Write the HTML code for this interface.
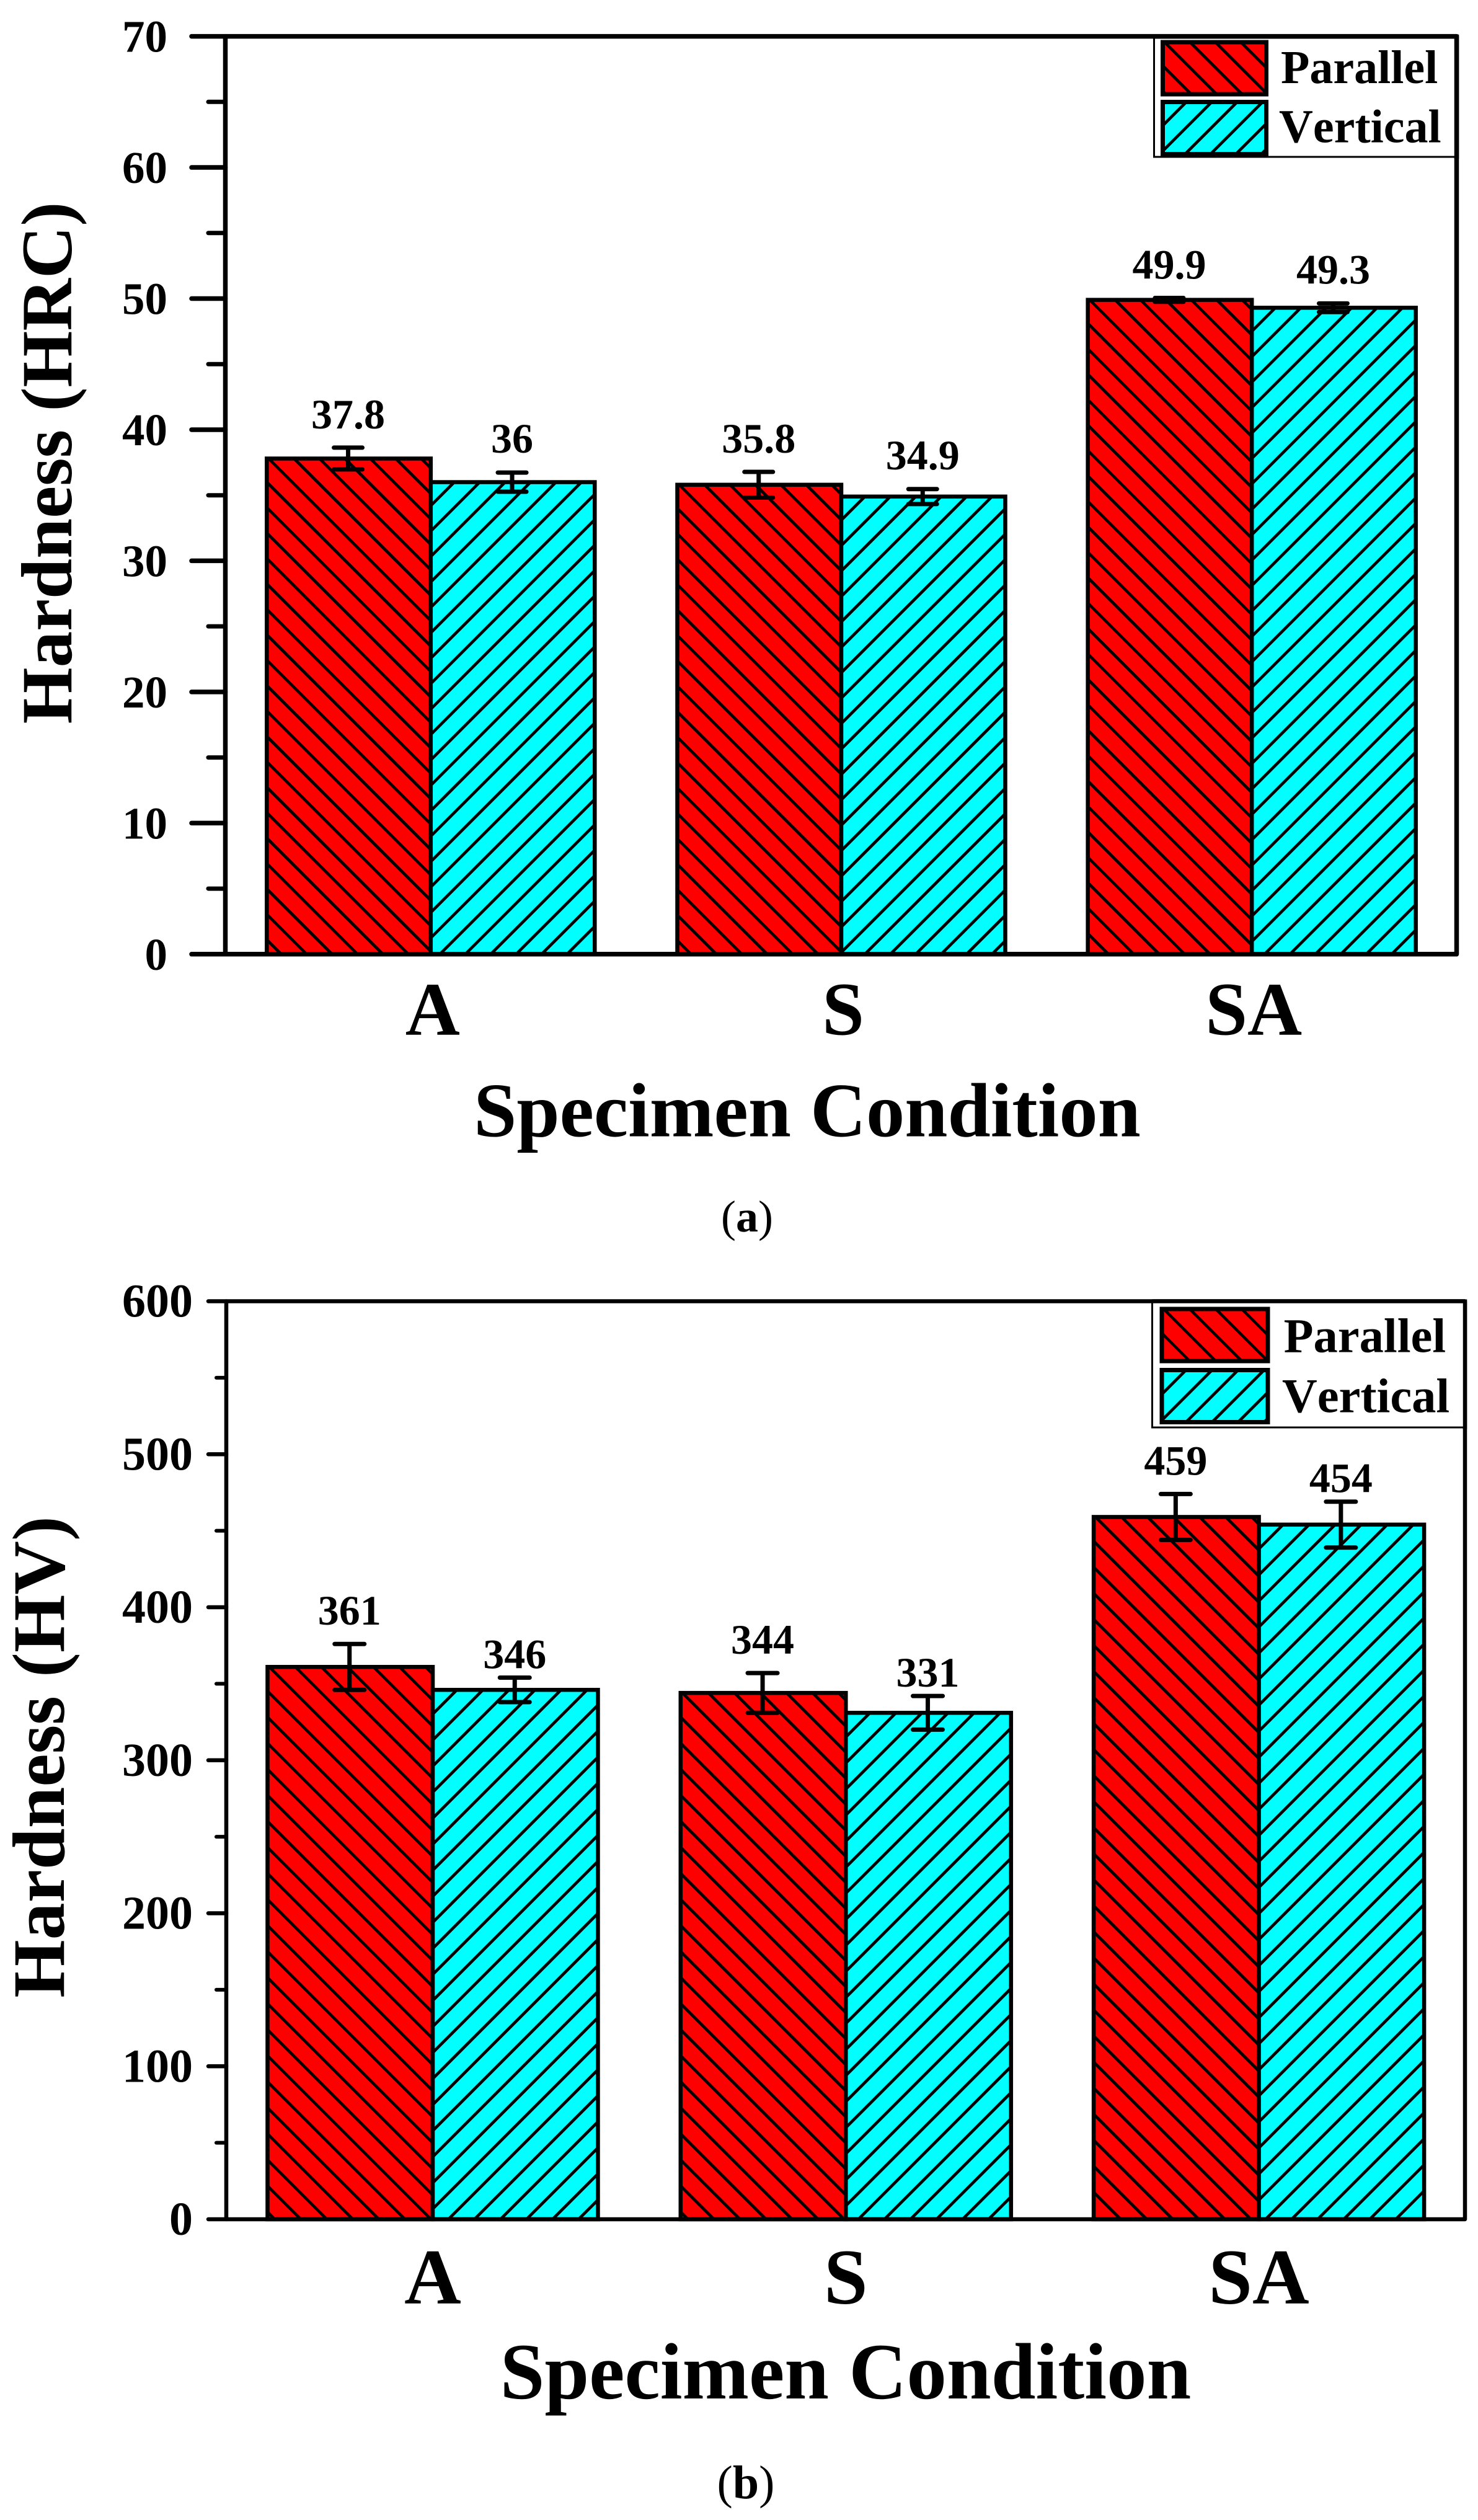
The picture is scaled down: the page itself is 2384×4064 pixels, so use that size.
<!DOCTYPE html>
<html lang="en">
<head>
<meta charset="utf-8">
<title>Hardness by specimen condition</title>
<style>
html,body{margin:0;padding:0;background:#fff;}
svg{display:block;}
text{font-family:"Liberation Serif","Times New Roman",serif;font-weight:bold;fill:#000;}
.legend-text{font-kerning:none;}
</style>
</head>
<body>
<svg id="figure" xmlns="http://www.w3.org/2000/svg" width="2384" height="4064" viewBox="0 0 2384 4064">
  <rect x="0" y="0" width="2384" height="4064" fill="#ffffff"/>
  <g id="chart-a"></g>
  <g id="chart-b"></g>
  <text transform="translate(115,746.5) rotate(-90)" text-anchor="middle" font-size="117">Hardness (HRC)</text>
  <text x="1302" y="1832.5" text-anchor="middle" font-size="124.5">Specimen Condition</text>
  <text x="1205" y="1986" text-anchor="middle" font-size="72" style="font-weight:normal">(<tspan style="font-weight:bold">a</tspan>)</text>
  <text transform="translate(103,2833.4) rotate(-90)" text-anchor="middle" font-size="120">Hardness (HV)</text>
  <text x="1364" y="3868" text-anchor="middle" font-size="129">Specimen Condition</text>
  <text x="1203" y="4029" text-anchor="middle" font-size="76" style="font-weight:normal">(<tspan style="font-weight:bold">b</tspan>)</text>
</svg>
<script>
// Chart data
const categories = ['A', 'S', 'SA'];
const seriesNames = ['Parallel', 'Vertical'];

const hrcParallel = [37.8, 35.8, 49.9];
const hrcVertical = [36, 34.9, 49.3];
const hrcParallelErr = [0.83, 0.98, 0.15];
const hrcVerticalErr = [0.73, 0.57, 0.33];
const hrcMajorTicks = [0, 10, 20, 30, 40, 50, 60, 70];
const hrcMinorTicks = [5, 15, 25, 35, 45, 55, 65];

const hvParallel = [361, 344, 459];
const hvVertical = [346, 331, 454];
const hvParallelErr = [15, 13, 15];
const hvVerticalErr = [8, 11, 15];
const hvMajorTicks = [0, 100, 200, 300, 400, 500, 600];
const hvMinorTicks = [50, 150, 250, 350, 450, 550];

const SVG_NS = 'http://www.w3.org/2000/svg';
const clipRegistry = { n: 0 };

function make(parent, tag, attrs) {
  const node = document.createElementNS(SVG_NS, tag);
  for (const key in attrs) node.setAttribute(key, attrs[key]);
  parent.appendChild(node);
  return node;
}

function hatchPath(x, y, w, h, direction, spacing, phase) {
  let d = '';
  const count = Math.ceil((w + h) / spacing) + 3;
  for (let k = -Math.ceil(w / spacing) - 2; k < count; k++) {
    const startY = y + phase + k * spacing;
    if (direction === 'down') {
      d += 'M' + x + ' ' + startY + 'L' + (x + w) + ' ' + (startY + w);
    } else {
      d += 'M' + x + ' ' + startY + 'L' + (x + w) + ' ' + (startY - w);
    }
  }
  return d;
}

function hatchedBox(group, x, y, w, h, fill, direction, spacing, borderWidth) {
  const clipId = 'hatch-clip-' + (clipRegistry.n++);
  const clip = make(group, 'clipPath', { id: clipId });
  make(clip, 'rect', { x: x, y: y, width: w, height: h });
  make(group, 'rect', { x: x, y: y, width: w, height: h, fill: fill });
  make(group, 'path', {
    d: hatchPath(x, y, w, h, direction, spacing, -3),
    stroke: '#000', 'stroke-width': 4.8, fill: 'none', 'clip-path': 'url(#' + clipId + ')'
  });
  make(group, 'rect', { x: x, y: y, width: w, height: h, fill: 'none', stroke: '#000', 'stroke-width': borderWidth });
}

function drawChart(root, cfg) {
  const yScale = function (v) { return cfg.yZero - v * cfg.pxPerUnit; };
  const xGroup = function (i) { return cfg.groupStart + i * cfg.groupStep; };

  // bars
  cfg.parallel.forEach(function (value, i) {
    const bar = make(root, 'g', {});
    
    
    hatchedBox(bar, xGroup(i) - cfg.barWidth, yScale(value), cfg.barWidth, cfg.yZero - yScale(value), '#ff0000', 'down', cfg.spacing, 6.5);
  });
  cfg.vertical.forEach(function (value, i) {
    const bar = make(root, 'g', {});
    
    
    hatchedBox(bar, xGroup(i), yScale(value), cfg.barWidth, cfg.yZero - yScale(value), '#00ffff', 'up', cfg.spacing, 6.5);
  });

  // axis frame
  const frame = make(root, 'rect', {
    x: cfg.left, y: yScale(cfg.major[cfg.major.length - 1]), width: cfg.right - cfg.left,
    height: cfg.yZero - yScale(cfg.major[cfg.major.length - 1]), fill: 'none', stroke: '#000',
    'stroke-width': cfg.axisWidth, 'stroke-linejoin': 'round'
  });
  
  

  // ticks
  cfg.major.forEach(function (value) {
    const tick = make(root, 'line', {
      x1: cfg.majorEnd, x2: cfg.left, y1: yScale(value), y2: yScale(value),
      stroke: '#000', 'stroke-width': cfg.axisWidth, 'stroke-linecap': 'round'
    });
    
    
    const label = make(root, 'text', {
      x: cfg.tickLabelRight, y: yScale(value) + cfg.tickLabelDrop, 'text-anchor': 'end', 'font-size': cfg.tickFont
    });
    label.textContent = String(value);
    
    
  });
  cfg.minor.forEach(function (value) {
    const tick = make(root, 'line', {
      x1: cfg.minorEnd, x2: cfg.left, y1: yScale(value), y2: yScale(value),
      stroke: '#000', 'stroke-width': cfg.axisWidth - 0.5, 'stroke-linecap': 'round'
    });
    
    
  });

  // category labels
  categories.forEach(function (name, i) {
    const label = make(root, 'text', {
      x: xGroup(i) + cfg.catShift, y: cfg.catBaseline, 'text-anchor': 'middle', 'font-size': cfg.catFont
    });
    label.textContent = name;
    
    
  });

  // error bars and value labels
  function drawErrors(values, errors, offsetSign, labelGap) {
    values.forEach(function (value, i) {
      const cx = xGroup(i) + offsetSign * cfg.barWidth / 2 - 1;
      const top = yScale(value + errors[i]);
      const bottom = yScale(value - errors[i]);
      const err = make(root, 'path', {
        d: 'M' + (cx - cfg.capHalf) + ' ' + top + 'H' + (cx + cfg.capHalf) +
           'M' + cx + ' ' + top + 'V' + bottom +
           'M' + (cx - cfg.capHalf) + ' ' + bottom + 'H' + (cx + cfg.capHalf),
        stroke: '#000', 'stroke-width': 7, fill: 'none', 'stroke-linecap': 'round'
      });
      
      
      const label = make(root, 'text', {
        x: cx, y: top - labelGap, 'text-anchor': 'middle', 'font-size': 68
      });
      label.textContent = String(value);
      
      
    });
  }
  drawErrors(cfg.parallel, cfg.parallelErr, -1, cfg.gapParallel);
  drawErrors(cfg.vertical, cfg.verticalErr, 1, cfg.gapVertical);

  // legend
  const legend = make(root, 'g', {});
  
  
  const lg = cfg.legend;
  make(legend, 'rect', {
    x: lg.left, y: lg.top, width: cfg.right - lg.left, height: lg.bottom - lg.top,
    fill: '#fff', stroke: '#000', 'stroke-width': 3
  });
  make(root, 'line', {
    x1: cfg.right, x2: cfg.right, y1: lg.top - 3, y2: lg.bottom + 3, stroke: '#000', 'stroke-width': cfg.axisWidth
  });
  make(root, 'line', {
    x1: lg.left, x2: cfg.right, y1: lg.top, y2: lg.top, stroke: '#000', 'stroke-width': cfg.axisWidth
  });
  const swatchA = make(legend, 'g', {});
  
  
  hatchedBox(swatchA, lg.swatchLeft, lg.row1Top, lg.swatchWidth, lg.rowHeight, '#ff0000', 'down', cfg.spacing, 7);
  const swatchB = make(legend, 'g', {});
  
  
  hatchedBox(swatchB, lg.swatchLeft, lg.row2Top, lg.swatchWidth, lg.rowHeight, '#00ffff', 'up', cfg.spacing, 7);
  const textA = make(legend, 'text', { x: lg.text1X, y: lg.base1, 'font-size': lg.font, 'class': 'legend-text' });
  textA.textContent = seriesNames[0];
  
  
  const textB = make(legend, 'text', { x: lg.text2X, y: lg.base2, 'font-size': lg.font, 'class': 'legend-text' });
  textB.textContent = seriesNames[1];
  
  
}

drawChart(document.getElementById('chart-a'), {
  parallel: hrcParallel, vertical: hrcVertical,
  parallelErr: hrcParallelErr, verticalErr: hrcVerticalErr,
  major: hrcMajorTicks, minor: hrcMinorTicks,
  yZero: 1538.8, pxPerUnit: 21.146,
  left: 363.5, right: 2349.5, axisWidth: 7.5,
  groupStart: 694.8, groupStep: 662.2, barWidth: 264.5, spacing: 41,
  majorEnd: 309, minorEnd: 336, tickLabelRight: 270, tickLabelDrop: 25, tickFont: 73,
  catShift: 3, catBaseline: 1668.5, catFont: 122,
  capHalf: 23, gapParallel: 31, gapVertical: 32,
  legend: {
    left: 1861.5, top: 58.7, bottom: 253, swatchLeft: 1875.5, swatchWidth: 167,
    row1Top: 68, row2Top: 164.5, rowHeight: 84,
    text1X: 2066, text2X: 2063, base1: 134, base2: 229.6, font: 76
  }
});

drawChart(document.getElementById('chart-b'), {
  parallel: hvParallel, vertical: hvVertical,
  parallelErr: hvParallelErr, verticalErr: hvVerticalErr,
  major: hvMajorTicks, minor: hvMinorTicks,
  yZero: 3579, pxPerUnit: 2.4675,
  left: 365, right: 2363, axisWidth: 6.5,
  groupStart: 698, groupStep: 666.3, barWidth: 266.5, spacing: 42,
  majorEnd: 336, minorEnd: 349, tickLabelRight: 311, tickLabelDrop: 25, tickFont: 76,
  catShift: 0, catBaseline: 3715, catFont: 127,
  capHalf: 24, gapParallel: 31, gapVertical: 15,
  legend: {
    left: 1858.5, top: 2098.5, bottom: 2302, swatchLeft: 1874, swatchWidth: 171,
    row1Top: 2111, row2Top: 2209.5, rowHeight: 84,
    text1X: 2070.6, text2X: 2068, base1: 2180.7, base2: 2277.7, font: 78.5
  }
});
</script>
</body>
</html>
